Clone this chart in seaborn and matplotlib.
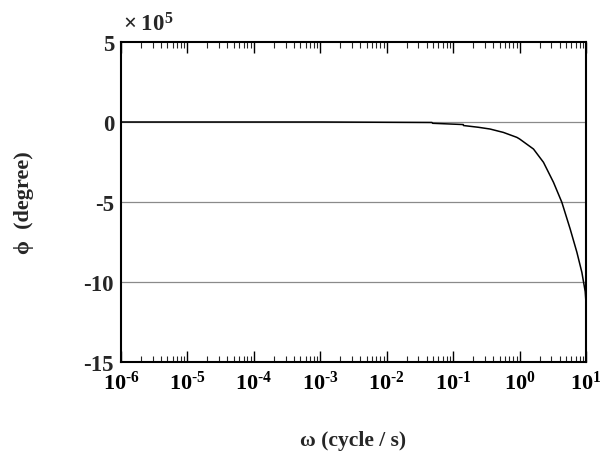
import numpy as np
import pandas as pd
import seaborn as sns
import matplotlib
matplotlib.use("Agg")
import matplotlib.pyplot as plt
from matplotlib.ticker import LogLocator, FuncFormatter, FixedLocator, NullLocator

omega = [1e-6, 1e-3, 0.048, 0.049, 0.142, 0.143, 0.24, 0.36, 0.51, 0.57, 0.91, 1.0, 1.62,
         2.29, 3.24, 4.33, 5.78, 7.29, 8.67, 9.73, 10.0]
phi = [0.0, 0.0, -0.03, -0.08, -0.16, -0.22, -0.33, -0.44, -0.6, -0.65, -0.96, -1.06, -1.69,
       -2.52, -3.77, -5.02, -6.69, -8.14, -9.4, -10.6, -11.3]
yticks = [5, 0, -5, -10, -15]
gridvals = [0, -5, -10]

sns.set_theme(style="white")
plt.rcParams['font.family'] = ['Liberation Serif', 'DejaVu Serif']
plt.rcParams['font.weight'] = 'bold'
plt.rcParams['mathtext.fontset'] = 'custom'
plt.rcParams['mathtext.rm'] = 'Liberation Serif:bold'
plt.rcParams['mathtext.bf'] = 'Liberation Serif:bold'
plt.rcParams['mathtext.it'] = 'Liberation Serif:bold:italic'

df = pd.DataFrame({"omega": omega, "phi": phi})

fig = plt.figure(figsize=(6.06, 4.52), dpi=100)
ax = fig.add_axes([121/606, 1 - 363/452, (586-121)/606, (363-43)/452])

for g in gridvals:
    ax.axhline(g, color='#8a8a8a', lw=0.9, zorder=1)

sns.lineplot(data=df, x="omega", y="phi", ax=ax, color='black', lw=1.1, zorder=3, estimator=None)
ax.set_xscale('log')
ax.set_xlim(1e-6, 10)
ax.set_ylim(-15, 5)

ax.xaxis.set_major_locator(LogLocator(base=10, numticks=20))
ax.xaxis.set_minor_locator(LogLocator(base=10, subs=np.arange(2, 10), numticks=100))
def fmt(v, p):
    e = int(round(np.log10(v)))
    s = ('\u2010%d' % -e) if e < 0 else '%d' % e
    return r'$\mathbf{10^{%s}}$' % s
ax.xaxis.set_major_formatter(FuncFormatter(fmt))
ax.tick_params(axis='x', which='major', direction='in', length=8, width=1, top=True, bottom=True,
               labelsize=16, pad=6, colors='black')
ax.tick_params(axis='x', which='minor', direction='in', length=4, width=0.8, top=True, bottom=True)
ax.yaxis.set_major_locator(FixedLocator(yticks))
ax.yaxis.set_minor_locator(NullLocator())
ax.set_yticklabels([str(t) for t in yticks])
ax.tick_params(axis='y', which='major', length=0, labelsize=16.5, pad=5)
for lab in ax.get_xticklabels() + ax.get_yticklabels():
    lab.set_fontweight('bold')

for s in ax.spines.values():
    s.set_color('black')
    s.set_linewidth(1.5)
    s.set_visible(True)

ax.set_xlabel('ω (cycle / s)', fontsize=15.5, fontweight='bold', labelpad=26)
ax.set_ylabel('ϕ  (degree)', fontsize=16, fontweight='bold', labelpad=36)
ax.text(0.005, 1.02, r'$\mathbf{\times\;10^{5}}$', transform=ax.transAxes, fontsize=16.5,
        ha='left', va='bottom')

fig.savefig('out.png', dpi=100)
